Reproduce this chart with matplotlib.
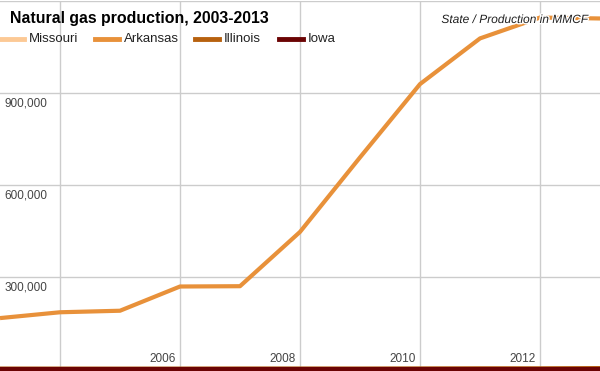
import matplotlib
matplotlib.use('Agg')
import matplotlib.pyplot as plt
import matplotlib.patheffects as pe

years = [2003, 2004, 2005, 2006, 2007, 2008, 2009, 2010, 2011, 2012, 2013]
missouri = [0, 0, 0, 0, 0, 0, 8, 14, 7, 8, 5]
arkansas = [166000, 185000, 190000, 269000, 270000, 447000, 690000, 929000, 1078000, 1146000, 1143000]
illinois = [1200, 1100, 1000, 1100, 1400, 1400, 1300, 1700, 2100, 2100, 2900]
iowa = [0, 0, 0, 0, 0, 0, 0, 0, 0, 0, 0]

states = ['Missouri', 'Arkansas', 'Illinois', 'Iowa']
series = [missouri, arkansas, illinois, iowa]
colors = ['#fcc995', '#e8913a', '#b7610f', '#6b0404']

yticks = [300000, 600000, 900000]
xlabels = [2006, 2008, 2010, 2012]

plt.rcParams['font.family'] = ['Liberation Sans', 'DejaVu Sans']

fig = plt.figure(figsize=(6, 3.71), dpi=100)
ax = fig.add_axes([0, 2 / 371, 1, 368 / 371])
ax.set_xlim(2003, 2013)
ax.set_ylim(0, 1200000)
for s in ax.spines.values():
    s.set_visible(False)
ax.set_xticks([])
ax.set_yticks([])

# grid
for y in yticks + [1200000]:
    ax.axhline(y, color='#cccccc', lw=1, zorder=0)
for x in [2004, 2006, 2008, 2010, 2012]:
    ax.axvline(x, color='#cccccc', lw=1, zorder=0)

for name, vals, c in zip(states, series, colors):
    ax.plot(years, vals, color=c, lw=3, clip_on=False, zorder=2, solid_capstyle='butt')

# axis labels drawn inside the plot
for y in yticks:
    ax.text(2003.07, y - 16000, f'{y:,}', ha='left', va='top', fontsize=8.5, color='#444444')
for x in xlabels:
    ax.text(x - 0.07, 12000, str(x), ha='right', va='bottom', fontsize=8.5, color='#444444')

fig.text(10 / 600, 1 - 18 / 371, 'Natural gas production, 2003-2013', fontsize=11.4,
         fontweight='bold', color='#000000', va='center', ha='left')

# legend
lx = [0, 95, 195, 279]
ly = 1 - 39 / 371
for x0, name, c in zip(lx, states, colors):
    fig.add_artist(plt.Line2D([x0 / 600, (x0 + 24) / 600], [ly, ly], color=c, lw=3.5,
                              transform=fig.transFigure))
    fig.text((x0 + 29) / 600, ly, name, fontsize=9.5, color='#222222', va='center', ha='left')

fig.text(587 / 600, 1 - 20 / 371, 'State / Production in MMCF', fontsize=8.6, style='italic',
         color='#222222', ha='right', va='center', zorder=5,
         path_effects=[pe.withStroke(linewidth=2, foreground='white')])

fig.savefig('out.png', dpi=100)
